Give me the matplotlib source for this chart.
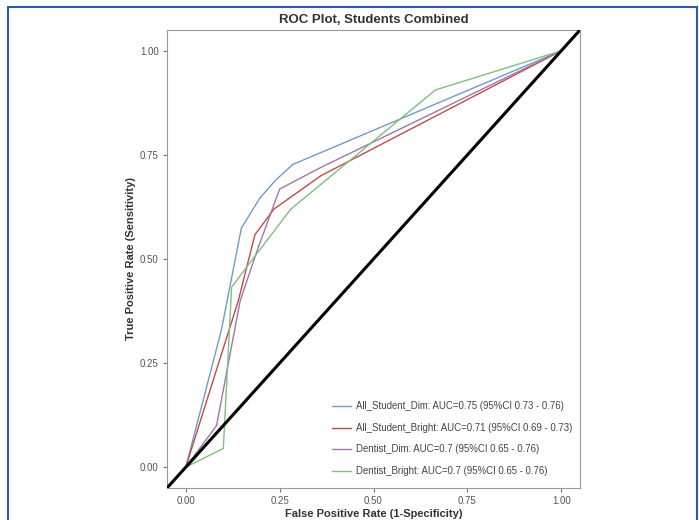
import matplotlib
matplotlib.use("Agg")
import matplotlib.pyplot as plt
from matplotlib.patches import Rectangle

plt.rcParams['font.family'] = ['Liberation Sans', 'DejaVu Sans']

# ROC curve data (FPR, TPR)
dim_fpr = [0.0, 0.095, 0.148, 0.197, 0.24, 0.285, 1.0]
dim_tpr = [0.0, 0.33, 0.574, 0.646, 0.69, 0.727, 1.0]

bright_fpr = [0.0, 0.14, 0.184, 0.235, 0.36, 1.0]
bright_tpr = [0.0, 0.40, 0.558, 0.62, 0.70, 1.0]

dent_dim_fpr = [0.0, 0.082, 0.145, 0.19, 0.25, 0.36, 1.0]
dent_dim_tpr = [0.0, 0.10, 0.40, 0.52, 0.668, 0.72, 1.0]

dent_bright_fpr = [0.0, 0.10, 0.122, 0.17, 0.28, 0.665, 1.0]
dent_bright_tpr = [0.0, 0.045, 0.432, 0.49, 0.62, 0.906, 1.0]

labels = [
    "All_Student_Dim: AUC=0.75 (95%CI 0.73 - 0.76)",
    "All_Student_Bright: AUC=0.71 (95%CI 0.69 - 0.73)",
    "Dentist_Dim: AUC=0.7 (95%CI 0.65 - 0.76)",
    "Dentist_Bright: AUC=0.7 (95%CI 0.65 - 0.76)",
]
colors = ["#6f9cc8", "#c24a4a", "#a077a6", "#7fbf7f"]

xticks = [0.0, 0.25, 0.5, 0.75, 1.0]
yticks = [0.0, 0.25, 0.5, 0.75, 1.0]
tick_labels = ["0.00", "0.25", "0.50", "0.75", "1.00"]

fig = plt.figure(figsize=(6.99, 5.2), dpi=100)
fig.patch.set_facecolor("white")

# blue frame around the figure
fig.patches.append(Rectangle((8 / 699, -0.05), (697 - 8) / 699, 1.05 - 7 / 520,
                             transform=fig.transFigure, fill=False,
                             edgecolor="#2f5aa8", linewidth=1.5))

ax = fig.add_axes([167 / 699, 1 - 488 / 520, (580 - 167) / 699, (488 - 30) / 520])
ax.set_facecolor("white")

series = [(dim_fpr, dim_tpr), (bright_fpr, bright_tpr),
          (dent_dim_fpr, dent_dim_tpr), (dent_bright_fpr, dent_bright_tpr)]
for (fx, ty), c, lab in zip(series, colors, labels):
    ax.plot(fx, ty, color=c, linewidth=1.0, label=lab, zorder=3)

ax.axline((0, 0), slope=1, color="black", linewidth=2.2, zorder=4)

ax.set_xlim(-0.05, 1.05)
ax.set_ylim(-0.05, 1.05)
ax.set_xticks(xticks)
ax.set_xticklabels(tick_labels)
ax.set_yticks(yticks)
ax.set_yticklabels(tick_labels)
ax.tick_params(axis="both", labelsize=7, labelcolor="#555555", color="#777777",
               length=3, width=0.8, pad=3)
for s in ax.spines.values():
    s.set_edgecolor("#999999")
    s.set_linewidth(0.8)

ax.set_title("ROC Plot, Students Combined", fontsize=9.5, fontweight="bold",
             color="#333333", pad=5)
ax.set_xlabel("False Positive Rate (1-Specificity)", fontsize=8, fontweight="bold",
              color="#333333", labelpad=2)
ax.set_ylabel("True Positive Rate (Sensitivity)", fontsize=8, fontweight="bold",
              color="#333333", labelpad=3)

leg = ax.legend(loc="lower left", bbox_to_anchor=(0.39, 0.018), frameon=False,
                fontsize=6.9, labelspacing=1.2, handlelength=2.0,
                handletextpad=0.5, borderaxespad=0.0)
for t in leg.get_texts():
    t.set_color("#444444")

fig.savefig("out.png", dpi=100)
